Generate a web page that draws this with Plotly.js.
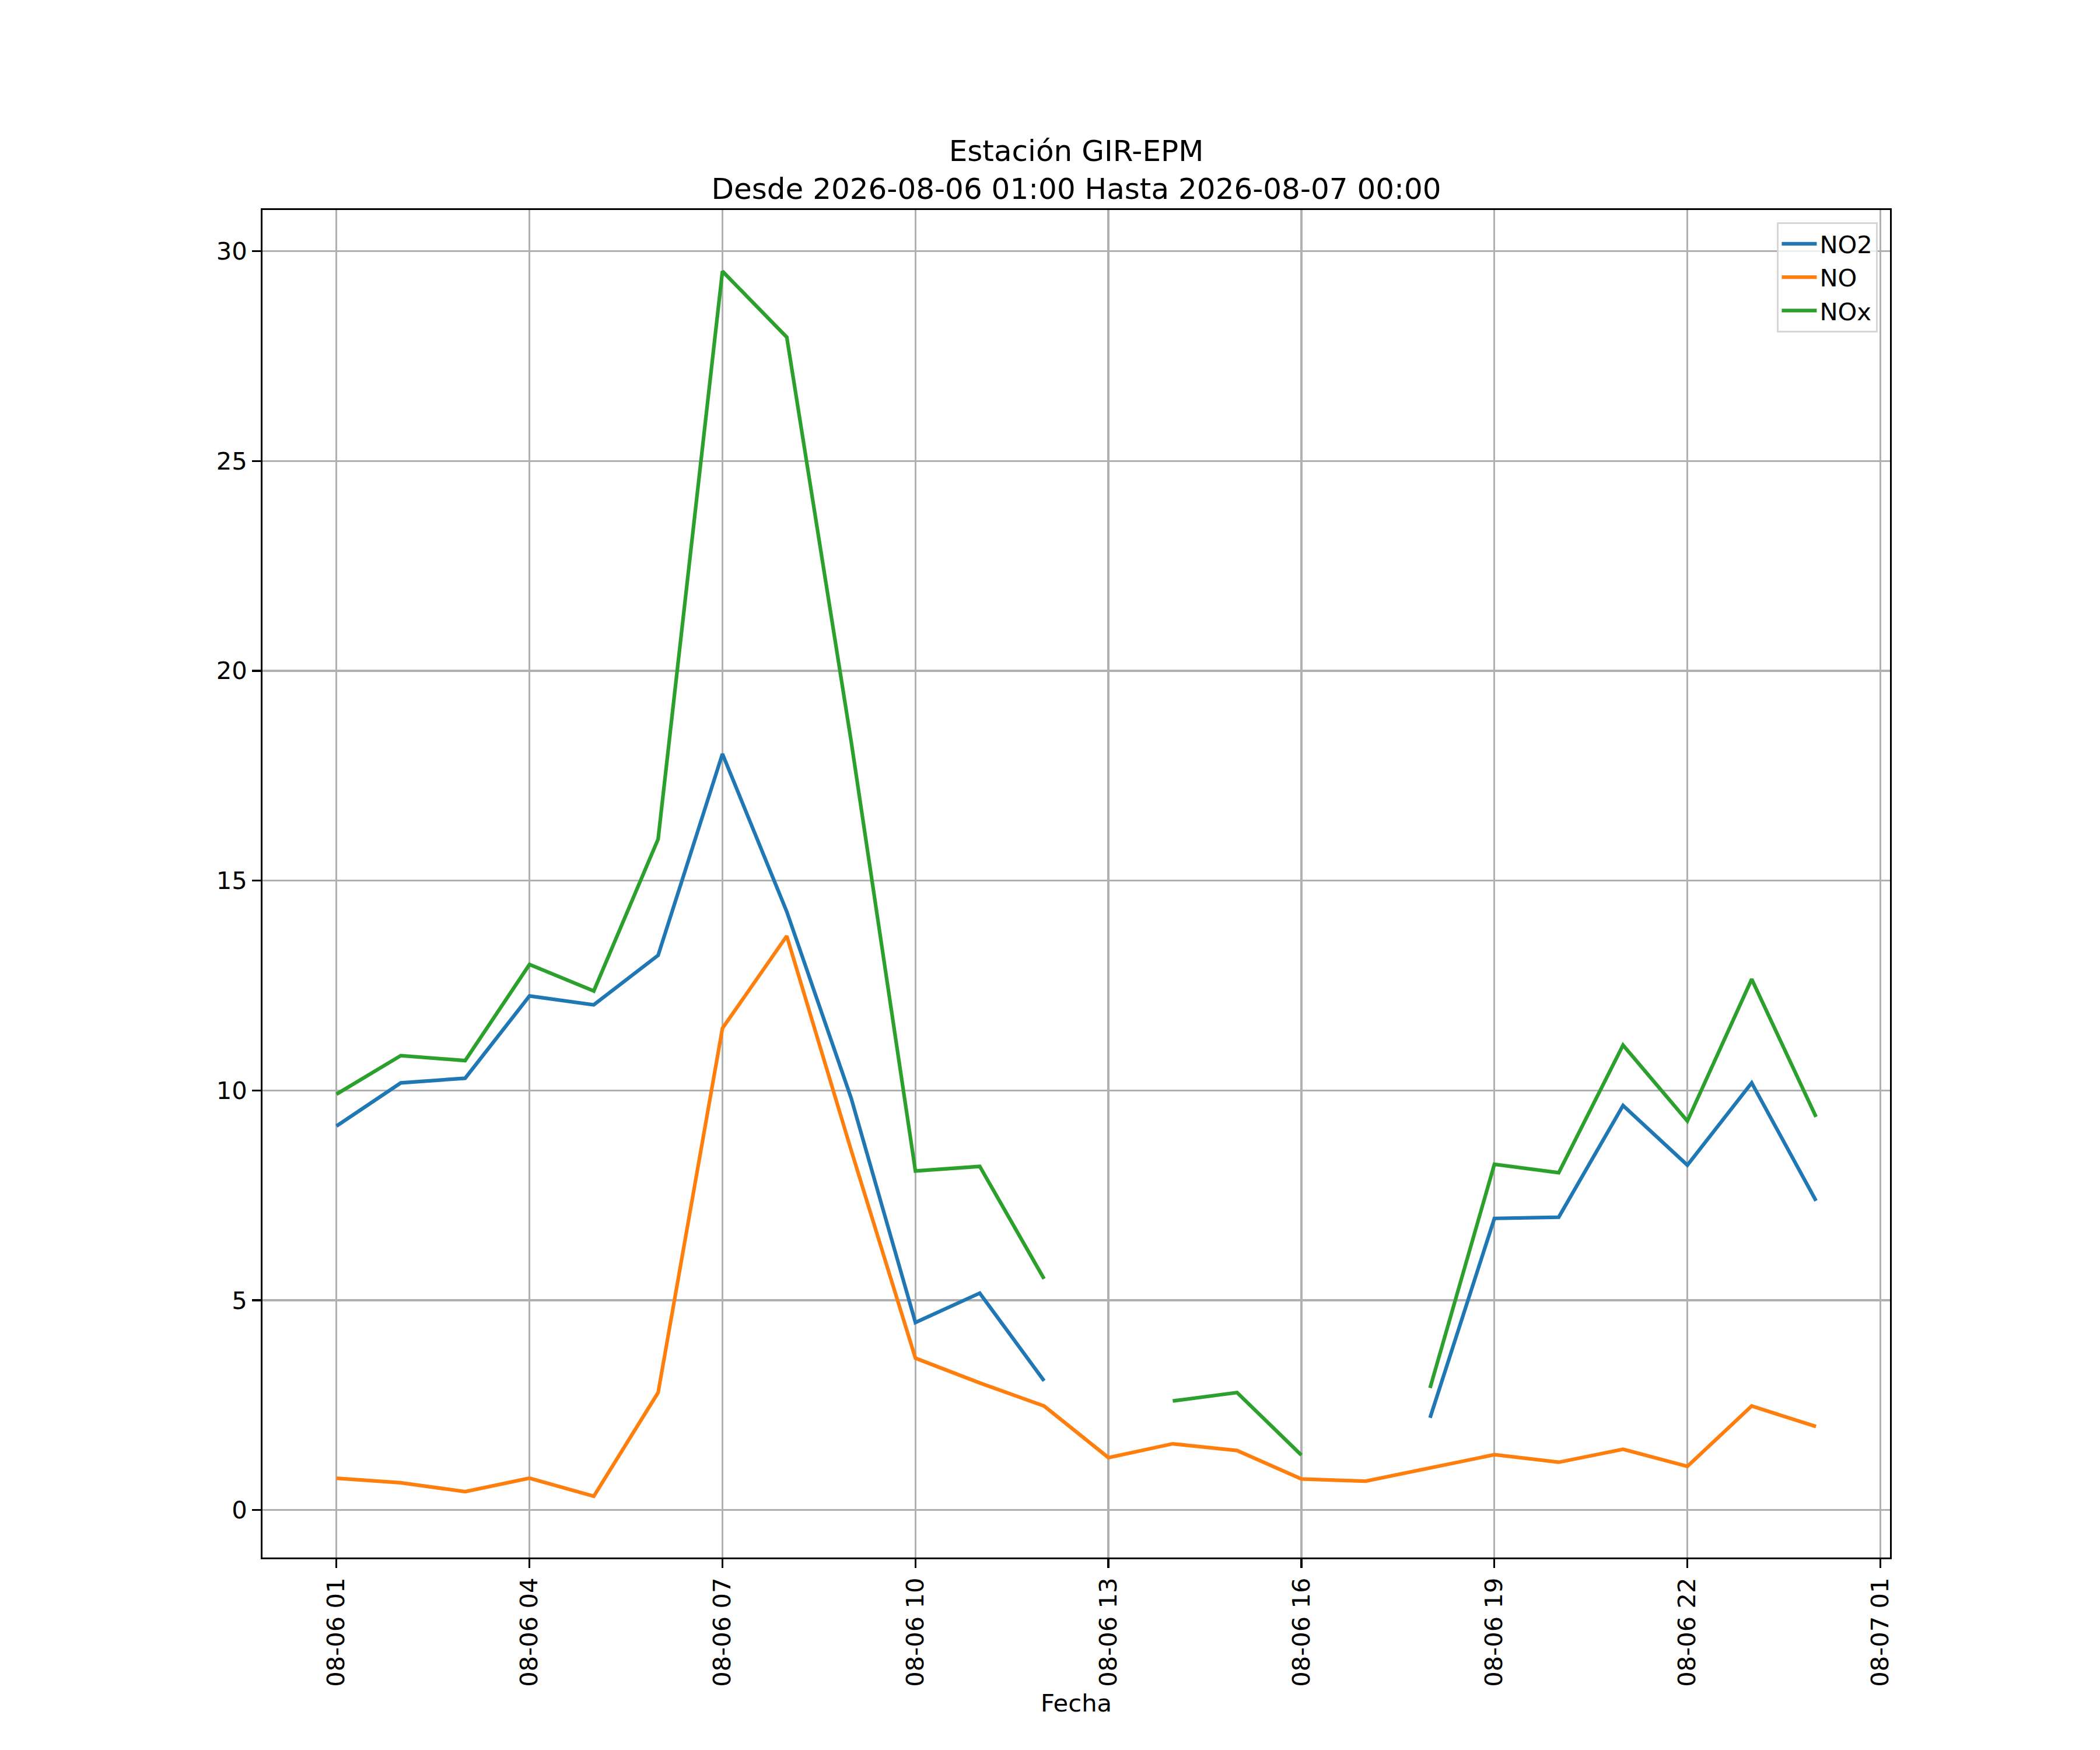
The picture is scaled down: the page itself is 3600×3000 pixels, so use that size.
<!DOCTYPE html>
<html>
<head>
<meta charset="utf-8">
<script src="https://cdn.plot.ly/plotly-3.0.1.min.js"></script>
<style>
  html, body { margin: 0; padding: 0; background: #fff; }
  #chart { width: 3600px; height: 3000px; }
</style>
</head>
<body>
<div id="chart"></div>
<script>
// hourly timestamps, 2026-08-06 01:00 .. 2026-08-07 00:00
const horas = [
  "2026-08-06 01:00", "2026-08-06 02:00", "2026-08-06 03:00", "2026-08-06 04:00",
  "2026-08-06 05:00", "2026-08-06 06:00", "2026-08-06 07:00", "2026-08-06 08:00",
  "2026-08-06 09:00", "2026-08-06 10:00", "2026-08-06 11:00", "2026-08-06 12:00",
  "2026-08-06 13:00", "2026-08-06 14:00", "2026-08-06 15:00", "2026-08-06 16:00",
  "2026-08-06 17:00", "2026-08-06 18:00", "2026-08-06 19:00", "2026-08-06 20:00",
  "2026-08-06 21:00", "2026-08-06 22:00", "2026-08-06 23:00", "2026-08-07 00:00",
];

const no2 = [
  9.15, 10.18, 10.29, 12.25, 12.04, 13.22, 18.02, 14.26,
  9.82, 4.47, 5.17, 3.08, null, null, null, null,
  null, 2.20, 6.95, 6.98, 9.64, 8.22, 10.18, 7.37,
];

const no = [
  0.76, 0.65, 0.44, 0.76, 0.33, 2.80, 11.48, 13.68,
  8.58, 3.62, 3.03, 2.48, 1.25, 1.58, 1.42, 0.74,
  0.69, 1.00, 1.32, 1.14, 1.45, 1.04, 2.48, 1.99,
];

const nox = [
  9.91, 10.83, 10.71, 13.00, 12.37, 15.99, 29.52, 27.95,
  18.33, 8.08, 8.19, 5.51, null, 2.60, 2.80, 1.31,
  null, 2.91, 8.24, 8.04, 11.08, 9.27, 12.65, 9.37,
];

const series = [
  { name: "NO2", y: no2, color: "#1f77b4" },
  { name: "NO", y: no, color: "#ff7f0e" },
  { name: "NOx", y: nox, color: "#2ca02c" },
];

// figure is 12x10 in at 300 dpi: 1pt = 300/72 px
const PT = 300 / 72;
const fontFamily = "DejaVu Sans, sans-serif";

const data = series.map((s) => ({
  type: "scatter",
  mode: "lines",
  name: s.name,
  x: horas,
  y: s.y,
  connectgaps: false,
  line: { color: s.color, width: 1.5 * PT },
}));

const axisCommon = {
  showline: true,
  linecolor: "#000",
  linewidth: 0.8 * PT,
  mirror: true,
  showgrid: true,
  gridcolor: "#b0b0b0",
  gridwidth: 0.8 * PT,
  zeroline: false,
  ticks: "outside",
  ticklen: 3.5 * PT,
  tickwidth: 0.8 * PT,
  tickcolor: "#000",
  tickfont: { family: fontFamily, size: 10 * PT, color: "#000" },
};

const layout = {
  width: 3600,
  height: 3000,
  paper_bgcolor: "#fff",
  plot_bgcolor: "#fff",
  font: { family: fontFamily, size: 10 * PT, color: "#000" },
  margin: { l: 450, r: 360, t: 360, b: 330 },
  showlegend: true,
  title: {
    text: "Estación GIR-EPM<br>Desde 2026-08-06 01:00 Hasta 2026-08-07 00:00",
    font: { family: fontFamily, size: 12 * PT, color: "#000" },
    x: 0.5,
    xref: "paper",
    xanchor: "center",
    y: 0.9079,
    yref: "container",
    yanchor: "top",
  },
  xaxis: {
    ...axisCommon,
    type: "date",
    range: ["2026-08-05 23:51", "2026-08-07 01:09"],
    tick0: "2026-08-06 01:00",
    dtick: 3 * 3600 * 1000,
    tickformat: "%m-%d %H",
    tickangle: -90,
    title: { text: "Fecha", font: { family: fontFamily, size: 10 * PT, color: "#000" }, standoff: 15 },
  },
  yaxis: {
    ...axisCommon,
    range: [-1.13, 30.98],
    dtick: 5,
    tick0: 0,
  },
  legend: {
    x: 0.9925,
    y: 0.9909,
    xanchor: "right",
    yanchor: "top",
    bgcolor: "rgba(255,255,255,0.8)",
    bordercolor: "#d6d6d6",
    borderwidth: 0.8 * PT,
    font: { family: fontFamily, size: 10 * PT, color: "#000" },
    itemwidth: 60,
  },
};

Plotly.newPlot("chart", data, layout, { staticPlot: true, displayModeBar: false });
</script>
</body>
</html>
